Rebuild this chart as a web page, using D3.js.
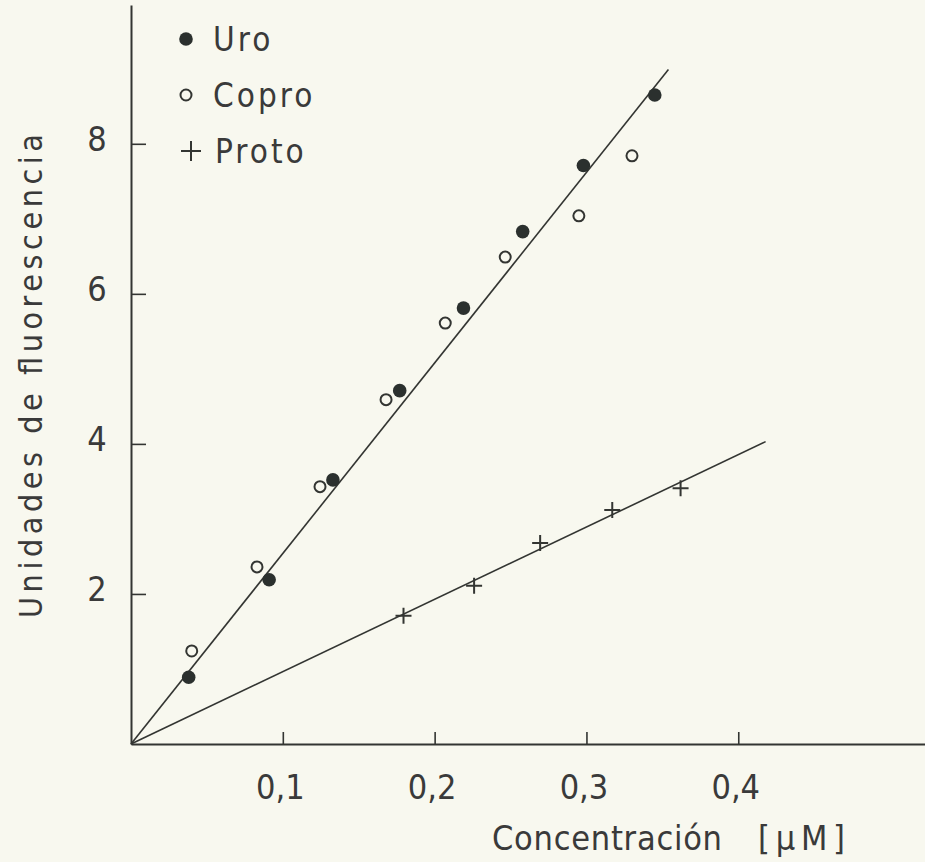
<!DOCTYPE html>
<html>
<head>
<meta charset="utf-8">
<script src="https://cdn.jsdelivr.net/npm/d3@7"></script>
<style>
  body { margin: 0; background: #f8f8ef; }
  svg { display: block; }
  text { font-family: "Liberation Sans Narrow", "DejaVu Sans Condensed", sans-serif; fill: #3a3a3a; }
</style>
</head>
<body>
<script>
// values
const uroX = [0.038, 0.091, 0.133, 0.177, 0.219, 0.258, 0.298, 0.345];
const uroY = [0.89, 2.19, 3.52, 4.71, 5.81, 6.83, 7.71, 8.65];
const coproX = [0.040, 0.083, 0.1245, 0.168, 0.207, 0.2465, 0.295, 0.330];
const coproY = [1.24, 2.36, 3.43, 4.59, 5.61, 6.49, 7.04, 7.84];
const protoX = [0.1795, 0.226, 0.2695, 0.317, 0.362];
const protoY = [1.71, 2.11, 2.68, 3.12, 3.41];

// fitted lines through the origin
const uroFitX = [0, 0.354];
const uroFitY = [0, 8.99];
const protoFitX = [0, 0.418];
const protoFitY = [0, 4.03];

const xTicks = [0.1, 0.2, 0.3, 0.4];
const xTickLabels = ["0,1", "0,2", "0,3", "0,4"];
const yTicks = [2, 4, 6, 8];
const yTickLabels = ["2", "4", "6", "8"];
const legendLabels = ["Uro", "Copro", "Proto"];

const w = 925, h = 862;
const ink = "#333532";

const svg = d3.select("body").append("svg")
    .attr("width", w)
    .attr("height", h)
    .style("background", "#f8f8ef");

const x = d3.scaleLinear().domain([0, 0.523]).range([131, 925]);
const y = d3.scaleLinear().domain([0, 9.85]).range([744, 5]);

// axes
const xAxis = svg.append("g")
    .attr("transform", "translate(0,744)")
    .call(d3.axisBottom(x)
        .tickValues(xTicks)
        .tickSizeInner(-12)
        .tickSizeOuter(0)
        .tickPadding(31)
        .tickFormat((d, i) => xTickLabels[i]));
xAxis.select(".domain").attr("stroke", ink).attr("stroke-width", 2);
xAxis.selectAll(".tick line").attr("stroke", ink).attr("stroke-width", 1.6);
xAxis.selectAll(".tick text")
    .attr("x", -3)
    .style("font-size", "34px")
    .attr("fill", "#3a3a3a");

const yAxis = svg.append("g")
    .attr("transform", "translate(131,0)")
    .call(d3.axisLeft(y)
        .tickValues(yTicks)
        .tickSizeInner(-15)
        .tickSizeOuter(0)
        .tickPadding(34)
        .tickFormat((d, i) => yTickLabels[i]));
yAxis.select(".domain").attr("stroke", ink).attr("stroke-width", 2);
yAxis.selectAll(".tick line").attr("stroke", ink).attr("stroke-width", 1.6);
yAxis.selectAll(".tick text")
    .attr("text-anchor", "middle")
    .attr("y", -4)
    .style("font-size", "34px")
    .attr("fill", "#3a3a3a");

// axis titles
svg.append("text")
    .attr("x", 492)
    .attr("y", 850)
    .attr("textLength", 230)
    .attr("lengthAdjust", "spacing")
    .style("font-size", "34px")
    .text("Concentración");
svg.append("text")
    .attr("x", 758)
    .attr("y", 850)
    .attr("textLength", 87)
    .attr("lengthAdjust", "spacing")
    .style("font-size", "34px")
    .text("[µM]");

svg.append("text")
    .attr("transform", "translate(42,376) rotate(-90)")
    .attr("text-anchor", "middle")
    .attr("textLength", 484)
    .attr("lengthAdjust", "spacing")
    .style("font-size", "32px")
    .text("Unidades de fluorescencia");

// fitted lines
const line = d3.line().x(d => x(d[0])).y(d => y(d[1]));
svg.append("path")
    .datum(d3.zip(uroFitX, uroFitY))
    .attr("d", line)
    .attr("fill", "none")
    .attr("stroke", ink)
    .attr("stroke-width", 1.6);
svg.append("path")
    .datum(d3.zip(protoFitX, protoFitY))
    .attr("d", line)
    .attr("fill", "none")
    .attr("stroke", ink)
    .attr("stroke-width", 1.6);

// points
svg.append("g").selectAll("circle")
    .data(d3.zip(coproX, coproY))
    .enter()
    .append("circle")
    .attr("cx", d => x(d[0]))
    .attr("cy", d => y(d[1]))
    .attr("r", 5.5)
    .attr("fill", "none")
    .attr("stroke", ink)
    .attr("stroke-width", 2);

svg.append("g").selectAll("circle")
    .data(d3.zip(uroX, uroY))
    .enter()
    .append("circle")
    .attr("cx", d => x(d[0]))
    .attr("cy", d => y(d[1]))
    .attr("r", 6.8)
    .attr("fill", "#2b302e");

const plus = "M-8,0H8M0,-8V8";
svg.append("g").selectAll("path")
    .data(d3.zip(protoX, protoY))
    .enter()
    .append("path")
    .attr("transform", d => "translate(" + x(d[0]) + "," + y(d[1]) + ")")
    .attr("d", plus)
    .attr("stroke", ink)
    .attr("stroke-width", 2);

// legend
const legend = svg.append("g")
    .selectAll("g")
    .data(legendLabels)
    .enter()
    .append("g")
    .attr("transform", (d, i) => "translate(186," + (39 + i * 56) + ")");

legend.each(function (d, i) {
    const g = d3.select(this);
    if (i === 0) {
        g.append("circle").attr("r", 6.8).attr("fill", "#2b302e");
    } else if (i === 1) {
        g.append("circle").attr("r", 5.5).attr("fill", "none")
            .attr("stroke", ink).attr("stroke-width", 2);
    } else {
        g.append("path").attr("transform", "translate(5,0)")
            .attr("d", "M-10,0H10M0,-10V10")
            .attr("stroke", ink).attr("stroke-width", 2);
    }
});

legend.append("text")
    .attr("x", (d, i) => i === 2 ? 29 : 27)
    .attr("y", 12)
    .style("font-size", "33px")
    .style("letter-spacing", "3px")
    .text(d => d);
</script>
</body>
</html>
